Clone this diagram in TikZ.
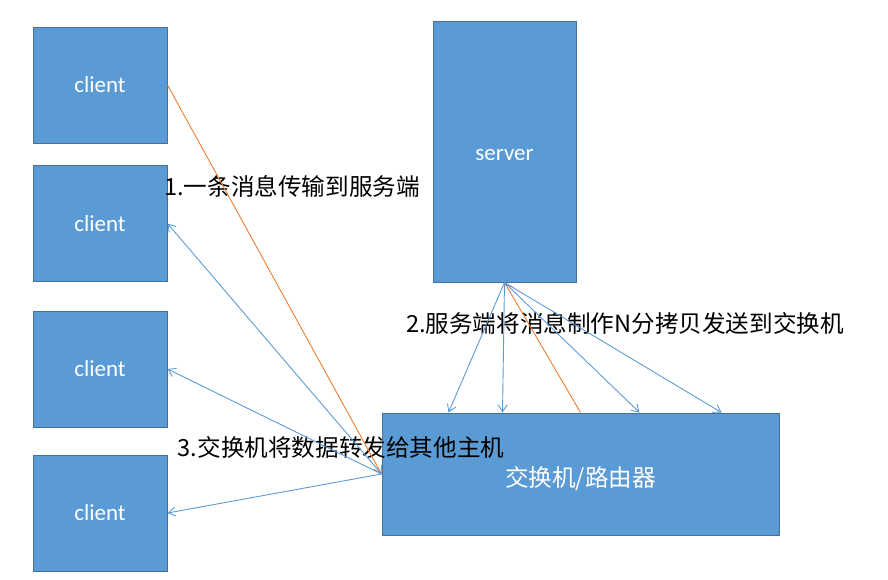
\documentclass[tikz,border=0pt]{standalone}
\usepackage{fontspec}
\setmainfont{Carlito}
\newfontfamily\cjkfont{Noto Sans CJK SC}
\usepackage{xcolor}
\usetikzlibrary{arrows.meta, calc}
\definecolor{boxFill}{RGB}{91,155,213}
\definecolor{boxEdge}{RGB}{65,113,156}
\definecolor{msgOrange}{RGB}{237,125,49}
\definecolor{msgBlue}{RGB}{91,155,213}
\tikzset{
    hostbox/.style={
        rectangle,
        draw=boxEdge,
        fill=boxFill,
        line width=1pt,
        text=white,
        inner sep=0pt,
        font=\fontsize{23}{26}\selectfont
    },
    stepnote/.style={
        inner sep=0pt,
        text=black,
        font=\cjkfont\fontsize{23.6}{26}\selectfont
    },
    sendarrow/.style={-{Straight Barb[length=7pt,width=9pt]}, line width=0.9pt, draw=msgOrange},
    copyarrow/.style={-{Straight Barb[length=7pt,width=9pt]}, line width=0.9pt, draw=msgBlue}
}
\begin{document}
\begin{tikzpicture}[x=1pt, y=-1pt]
    \useasboundingbox (0,0) rectangle (888,579);
    % hosts
    \node[hostbox, minimum width=134pt, minimum height=116pt] (c1) at (100,85) {client};
    \node[hostbox, minimum width=134pt, minimum height=116pt] (c2) at (100,223.5) {client};
    \node[hostbox, minimum width=134pt, minimum height=116pt] (c3) at (100,369) {client};
    \node[hostbox, minimum width=134pt, minimum height=116pt] (c4) at (100,513) {client};
    \node[hostbox, minimum width=143pt, minimum height=261pt, text height=19pt, text depth=1pt] (server) at (504.5,151.5) {server};
    \node[hostbox, minimum width=397pt, minimum height=122pt, text height=27pt, text depth=3pt, font=\cjkfont\fontsize{23.6}{26}\selectfont] (switch) at (580.5,474) {交换机/路由器};
    % step labels
    \node[stepnote] (step1) at (292,186) {1.一条消息传输到服务端};
    \node[stepnote] (step2) at (625,323) {2.服务端将消息制作N分拷贝发送到交换机};
    \node[stepnote] (step3) at (341,447) {3.交换机将数据转发给其他主机};
    % message path
    \draw[sendarrow] (c1.east) -- (switch.west);
    \draw[sendarrow] (switch.north) -- (server.south);
    \foreach \dx in {67,121,258,340}
        \draw[copyarrow] (server.south) -- ($(switch.north west)+(\dx,0)$);
    \foreach \host in {c2,c3,c4}
        \draw[copyarrow] (switch.west) -- (\host.east);
\end{tikzpicture}
\end{document}
